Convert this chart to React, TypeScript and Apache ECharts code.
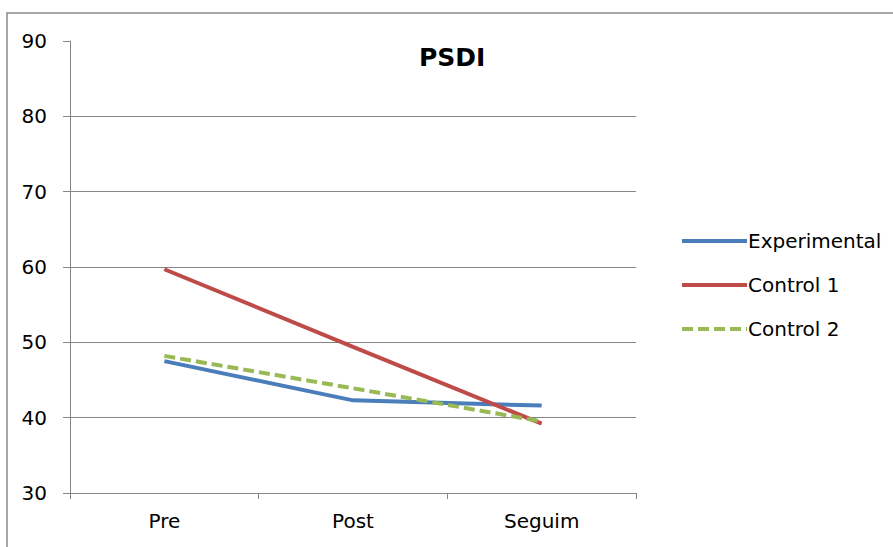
import React, { useEffect, useRef } from "react";
import * as echarts from "echarts";

const categories = ["Pre", "Post", "Seguim"];
const experimental = [47.5, 42.3, 41.6];
const control1 = [59.7, 49.4, 39.2];
const control2 = [48.2, 43.9, 39.5];
const yMin = 30;
const yMax = 90;
const yInterval = 10;

const FONT = "DejaVu Sans";

export default function App() {
  const ref = useRef<HTMLDivElement>(null);
  useEffect(() => {
    if (!ref.current) return;
    const chart = echarts.init(ref.current, undefined, { renderer: "svg" });
    const lineBase = { type: "line", symbol: "none", showSymbol: false, smooth: false };
    chart.setOption({
      animation: false,
      backgroundColor: "#fff",
      title: {
        text: "PSDI",
        left: 414,
        top: 40,
        textStyle: { fontFamily: FONT, fontSize: 25, fontWeight: "bold", color: "#000" },
      },
      graphic: [
        {
          type: "rect",
          shape: { x: 7, y: 13, width: 1000, height: 1000 },
          style: { fill: "none", stroke: "#8a8a8a", lineWidth: 1.5 },
          silent: true,
        },
      ],
      legend: {
        orient: "vertical",
        left: 675,
        top: 226,
        itemWidth: 65,
        itemHeight: 14,
        itemGap: 24,
        itemStyle: { opacity: 0 },
        lineStyle: { width: 4 },
        textStyle: { fontFamily: FONT, fontSize: 20, color: "#000", padding: [0, 0, 0, -4] },
        data: ["Experimental", "Control 1", "Control 2"],
      },
      grid: { left: 70, right: 257, top: 41, bottom: 54 },
      xAxis: {
        type: "category",
        data: categories,
        boundaryGap: true,
        axisLine: { lineStyle: { color: "#868686", width: 1 } },
        axisTick: { show: true, length: 6, lineStyle: { color: "#868686" } },
        axisLabel: { fontFamily: FONT, fontSize: 20, color: "#000", margin: 18 },
        splitLine: { show: false },
      },
      yAxis: {
        type: "value",
        min: yMin,
        max: yMax,
        interval: yInterval,
        axisLine: { show: true, lineStyle: { color: "#868686", width: 1 } },
        axisTick: { show: true, length: 7, lineStyle: { color: "#868686" } },
        axisLabel: { fontFamily: FONT, fontSize: 20, color: "#000", margin: 23 },
        splitLine: { show: true, showMaxLine: false, lineStyle: { color: "#868686", width: 1 } },
      },
      series: [
        {
          ...lineBase,
          name: "Experimental",
          data: experimental,
          itemStyle: { color: "#4a7ebb" },
          lineStyle: { color: "#4a7ebb", width: 4 },
        },
        {
          ...lineBase,
          name: "Control 1",
          data: control1,
          itemStyle: { color: "#be4b48" },
          lineStyle: { color: "#be4b48", width: 4 },
        },
        {
          ...lineBase,
          name: "Control 2",
          data: control2,
          itemStyle: { color: "#98b954" },
          lineStyle: { color: "#98b954", width: 4, type: [11, 5] },
        },
      ],
    });
    return () => chart.dispose();
  }, []);
  return (
    <div
      ref={ref}
      style={{ position: "fixed", left: 0, top: 0, width: 893, height: 547 }}
    />
  );
}
